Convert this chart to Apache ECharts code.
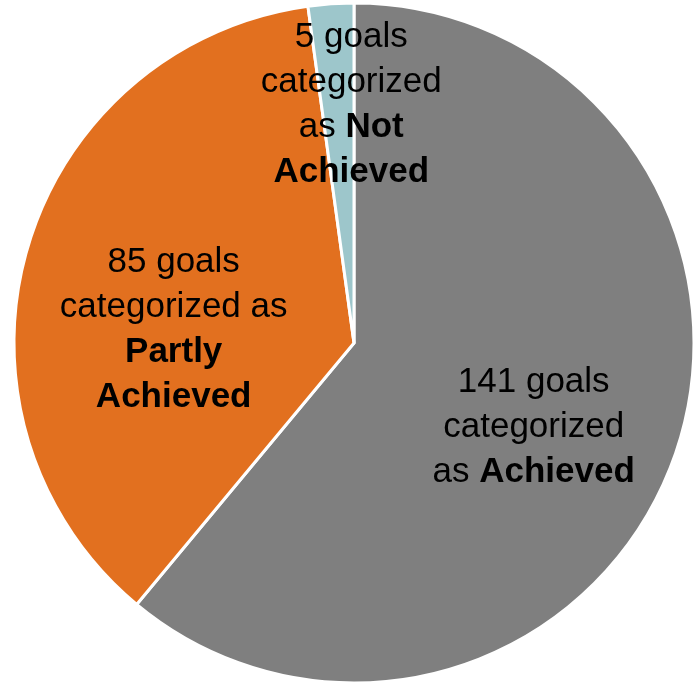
<!DOCTYPE html>
<html>
<head>
<meta charset="utf-8">
<style>
  html, body { margin: 0; padding: 0; background: #ffffff; }
  #chart { width: 693px; height: 682px; }
</style>
<script src="https://cdn.jsdelivr.net/npm/echarts@6/dist/echarts.min.js"></script>
</head>
<body>
<div id="chart"></div>
<script>
// Goal status counts
const categories = ['Achieved', 'Partly Achieved', 'Not Achieved'];
const goalCounts = [141, 85, 5];
const sliceColors = ['#7f7f7f', '#e2701f', '#9dc6cb'];

// Label text pieces: plain prefix lines, then the status name in bold
const labelLeads = ['goals\ncategorized\nas ', 'goals\ncategorized as\n', 'goals\ncategorized\nas '];
const labelBold = [['Achieved'], ['Partly', 'Achieved'], ['Not', 'Achieved']];

// Nudges from the default inside label spot
const labelShift = [[17, 26], [-14, 34], [9, -66]];

function buildLabel(i) {
  const lead = (goalCounts[i] + ' ' + labelLeads[i]).split('\n');
  const lines = lead.map(s => s ? '{n|' + s + '}' : '');
  const bold = labelBold[i];
  lines[lines.length - 1] += '{b|' + bold[0] + '}';
  for (let k = 1; k < bold.length; k++) lines.push('{b|' + bold[k] + '}');
  return lines.join('\n');
}

const chart = echarts.init(document.getElementById('chart'), null, { renderer: 'canvas' });

chart.setOption({
  animation: false,
  backgroundColor: '#ffffff',
  series: [{
    type: 'pie',
    center: [354, 343],
    radius: [0, 340],
    startAngle: 90,
    clockwise: true,
    silent: true,
    itemStyle: { borderColor: '#ffffff', borderWidth: 3 },
    label: {
      show: true,
      position: 'inside',
      align: 'center',
      formatter: p => buildLabel(p.dataIndex),
      rich: {
        n: { fontFamily: 'Liberation Sans, Arial, sans-serif', fontSize: 35, color: '#000000', lineHeight: 45, fontWeight: 'normal' },
        b: { fontFamily: 'Liberation Sans, Arial, sans-serif', fontSize: 35, color: '#000000', lineHeight: 45, fontWeight: 'bold' }
      }
    },
    labelLine: { show: false },
    labelLayout: p => ({ dx: labelShift[p.dataIndex][0], dy: labelShift[p.dataIndex][1] }),
    data: categories.map((name, i) => ({
      name: name,
      value: goalCounts[i],
      itemStyle: { color: sliceColors[i] }
    }))
  }]
});
</script>
</body>
</html>
